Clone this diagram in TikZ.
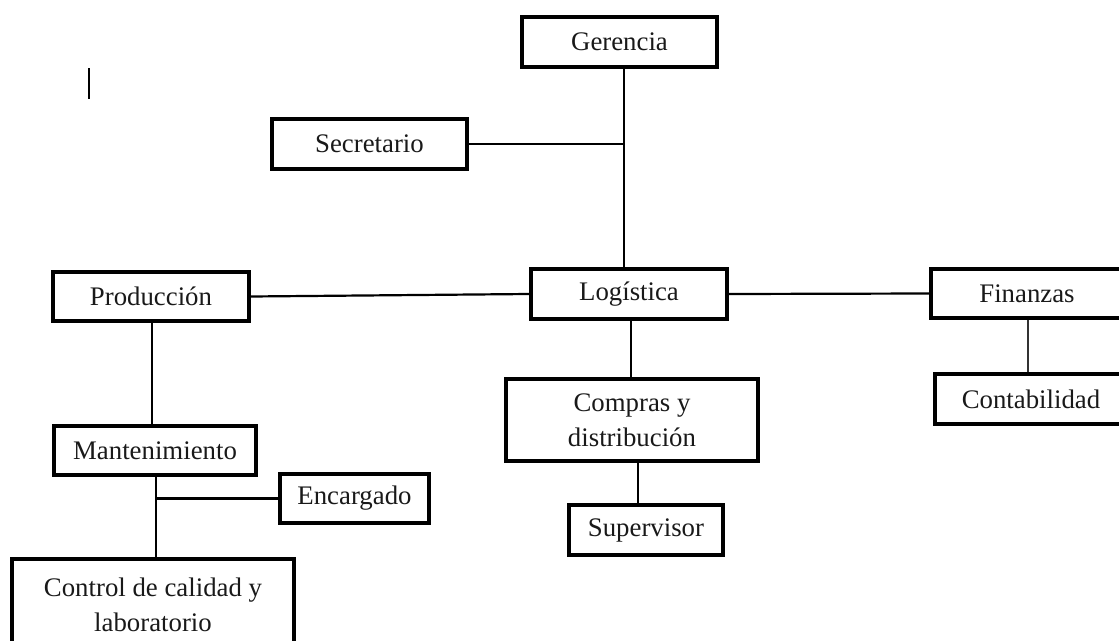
\documentclass[tikz,border=0pt]{standalone}
\usepackage{fontspec}
\setmainfont{Liberation Serif}
\begin{document}
\begin{tikzpicture}[x=1pt,y=-1pt,
  box/.style={draw=black, line width=3.9pt, inner sep=0pt, align=center,
    font=\fontsize{26.8}{35}\selectfont, text=black!90},
  link/.style={draw=black, line width=2.2pt},
  thin link/.style={draw=black!80, line width=1.2pt}]
\useasboundingbox (0,0) rectangle (1119,640);
\clip (0,0) rectangle (1119,640);
% boxes
\node[box, minimum width=195pt, minimum height=50pt] (ger) at (619.5,42) {Gerencia};
\node[box, minimum width=195pt, minimum height=50pt] (sec) at (369.5,144) {Secretario};
\node[box, minimum width=196pt, minimum height=49pt] (prod) at (151,296.5) {Producción};
\node[box, minimum width=196pt, minimum height=50pt] (log) at (629,294) {Logística};
\node[box, minimum width=220pt, minimum height=49pt] (fin) at (1041,293.5) {\hspace*{-28pt}Finanzas};
\node[box, minimum width=220pt, minimum height=50pt] (cont) at (1045,399) {\hspace*{-28pt}Contabilidad};
\node[box, minimum width=252pt, minimum height=82pt] (comp) at (632,420) {Compras y\\distribución};
\node[box, minimum width=154pt, minimum height=50pt] (sup) at (646,530) {Supervisor};
\node[box, minimum width=202pt, minimum height=49pt] (mant) at (155,450.5) {Mantenimiento};
\node[box, minimum width=149pt, minimum height=49pt] (enc) at (354.5,498.5) {Encargado};
\node[box, minimum width=282pt, minimum height=92pt] (ctrl) at (153,605) {Control de calidad y\\laboratorio};
% helper coordinates for connector columns
\coordinate (gx) at (624,0);
\coordinate (lx) at (631,0);
\coordinate (cx) at (638,0);
\coordinate (fx) at (1028,0);
\coordinate (px) at (152,0);
\coordinate (mx) at (156,0);
% connectors
\draw[link] (ger.south -| gx) -- (log.north -| gx);
\draw[link] (sec.east) -- (sec.east -| gx);
\draw[link] (prod.east) -- (log.west);
\draw[link] (log.east) -- (fin.west);
\draw[thin link] (fin.south -| fx) -- (cont.north -| fx);
\draw[link] (log.south -| lx) -- (comp.north -| lx);
\draw[link] (comp.south -| cx) -- (sup.north -| cx);
\draw[link] (prod.south -| px) -- (mant.north -| px);
\draw[link] (mant.south -| mx) -- (ctrl.north -| mx);
\draw[link] (enc.west) -- (enc.west -| mx);
% stray mark
\draw[line width=1.4pt] (89,68) -- (89,99);
\end{tikzpicture}
\end{document}
